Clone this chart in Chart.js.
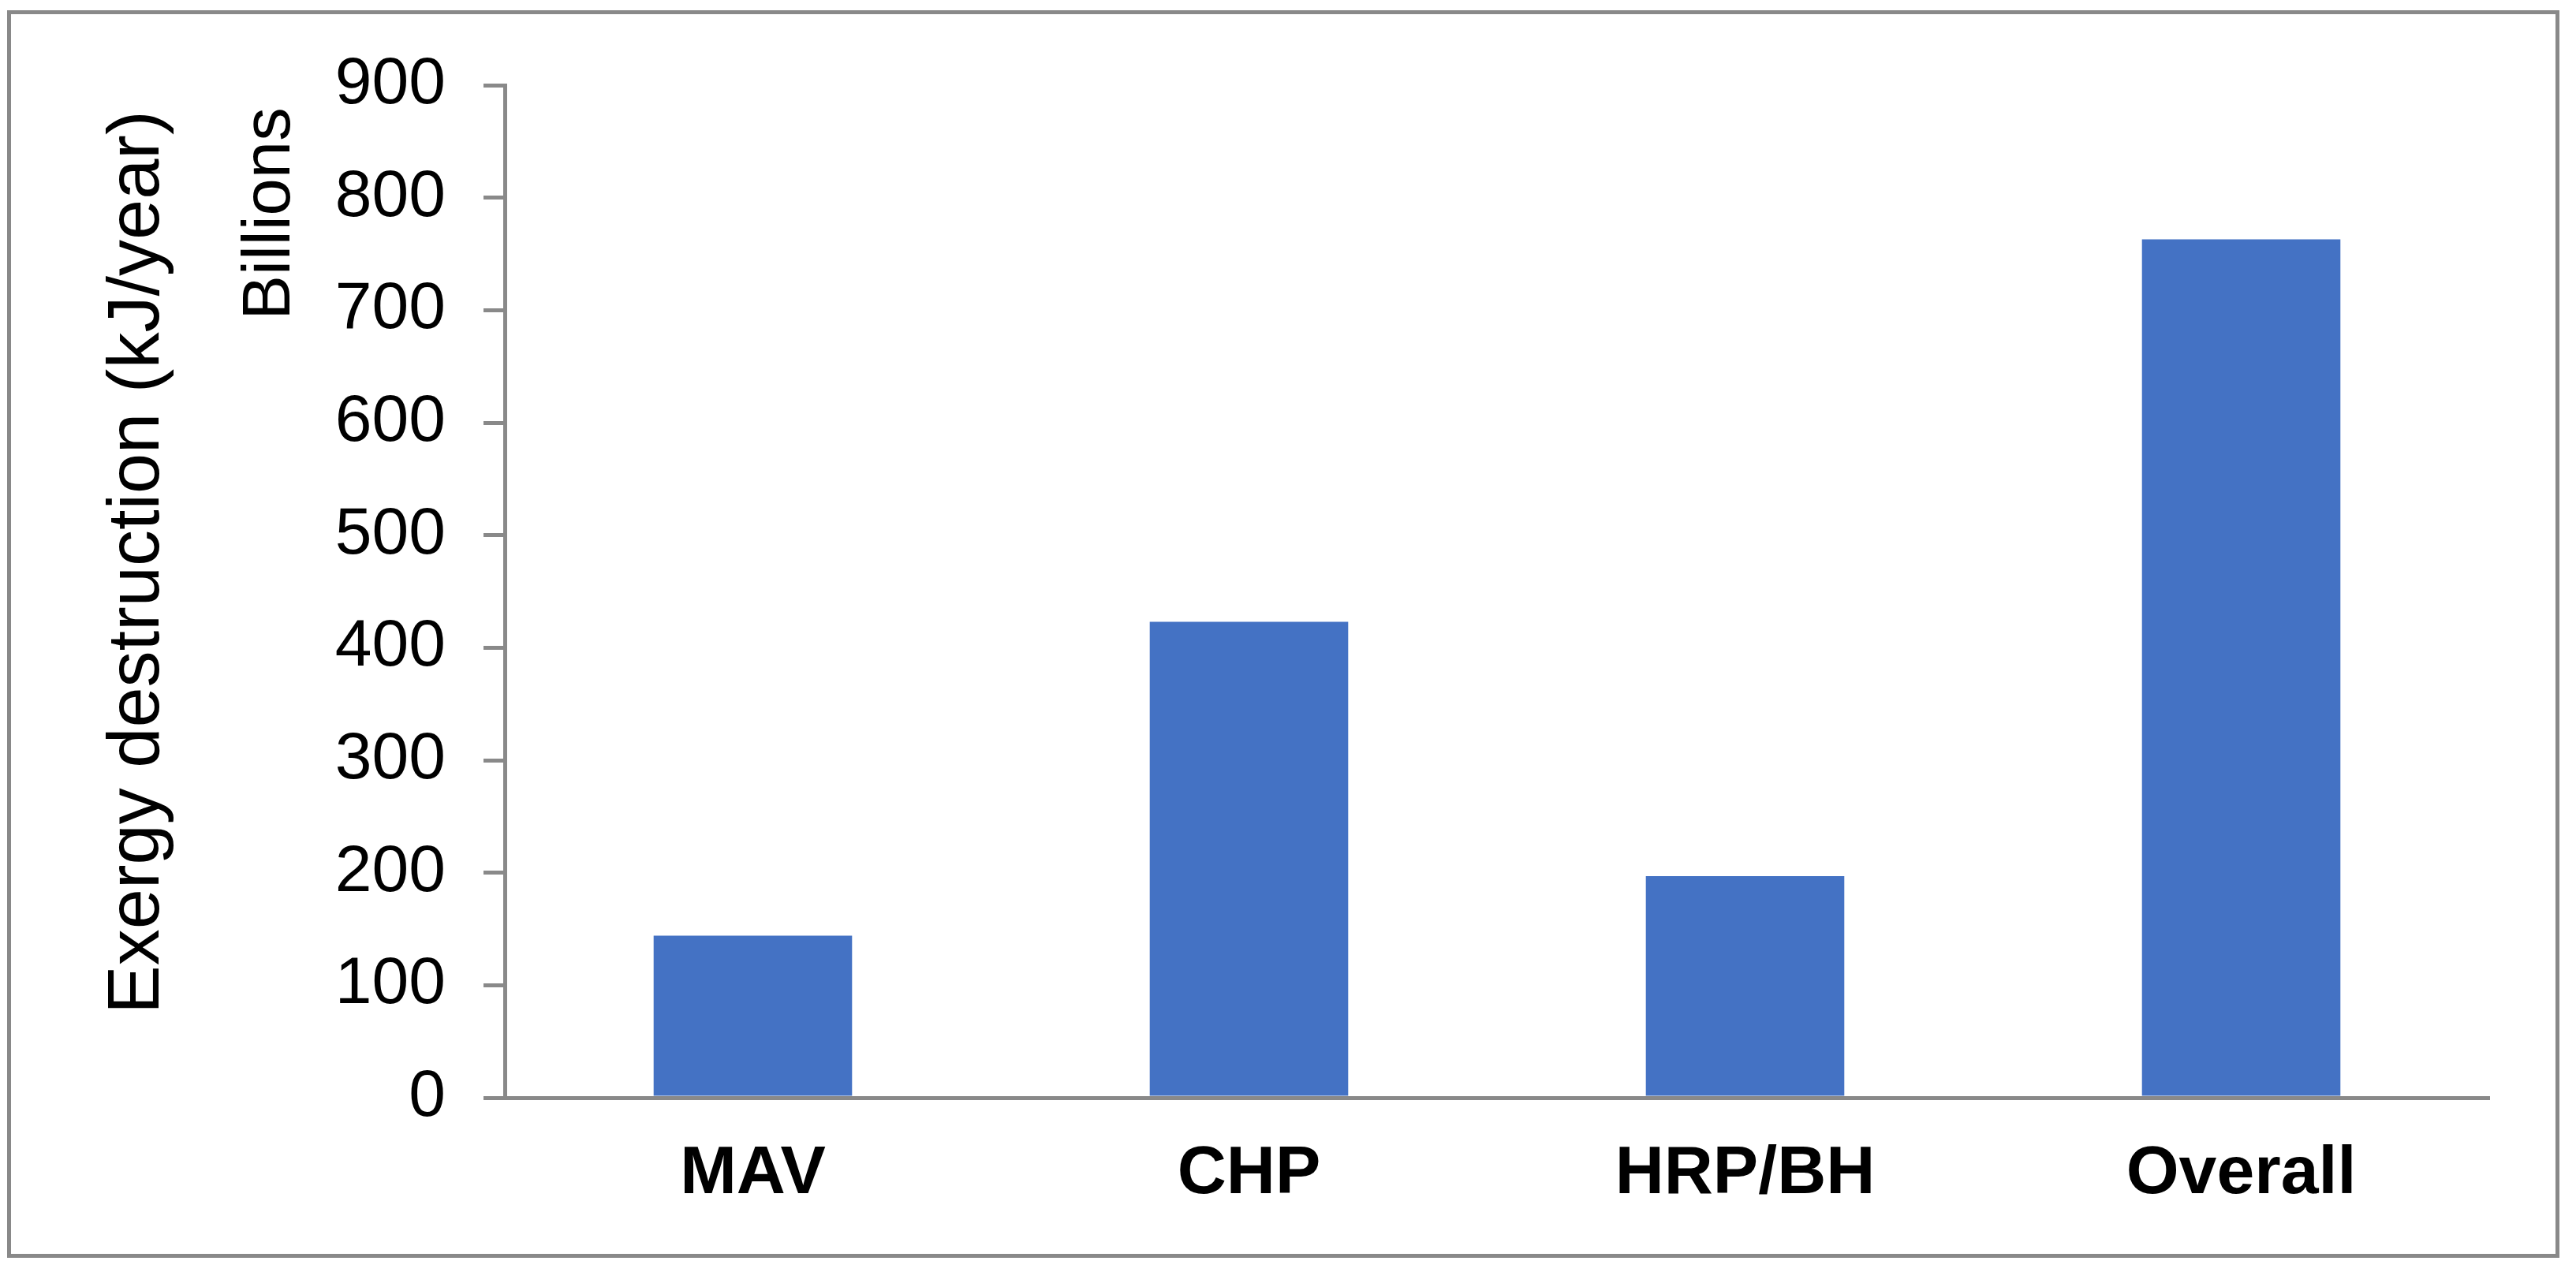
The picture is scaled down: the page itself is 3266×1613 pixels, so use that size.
<!DOCTYPE html>
<html>
<head>
<meta charset="utf-8">
<script src="https://cdn.jsdelivr.net/npm/chart.js@4/dist/chart.umd.min.js"></script>
<style>
  html, body { margin: 0; padding: 0; background: #fff; }
  #wrap { position: relative; width: 3266px; height: 1613px; }
  #frame { position: absolute; left: 9px; top: 13px; width: 3236px; height: 1582px; border: 5px solid #898989; box-sizing: border-box; pointer-events: none; }
  canvas { position: absolute; left: 0; top: 0; }
</style>
</head>
<body>
<div id="wrap">
  <canvas id="exergy-chart" width="3266" height="1613"></canvas>
  <div id="frame"></div>
</div>
<script>
const categories = ['MAV', 'CHP', 'HRP/BH', 'Overall'];
const exergyDestruction = [144, 423, 197, 763];   // billions kJ/year
const yTicks = [0, 100, 200, 300, 400, 500, 600, 700, 800, 900];

const axisGray = '#898989';
const barBlue = '#4472C4';
const fontFamily = '"Liberation Sans", Arial, sans-serif';

// y-axis title + "Billions" unit label, drawn beside the axis
const sideLabels = {
  id: 'sideLabels',
  afterDraw(chart) {
    const ctx = chart.ctx;
    ctx.save();
    ctx.fillStyle = '#000';
    ctx.textAlign = 'center';
    ctx.textBaseline = 'middle';

    ctx.save();
    ctx.translate(176, 713);
    ctx.rotate(-Math.PI / 2);
    ctx.font = '92px ' + fontFamily;
    ctx.fillText('Exergy destruction (kJ/year)', 0, 0);
    ctx.restore();

    ctx.save();
    ctx.translate(344, 271);
    ctx.rotate(-Math.PI / 2);
    ctx.font = '85px ' + fontFamily;
    ctx.fillText('Billions', 0, 0);
    ctx.restore();

    ctx.restore();
  }
};

new Chart(document.getElementById('exergy-chart'), {
  type: 'bar',
  data: {
    labels: categories,
    datasets: [{
      label: 'Exergy destruction',
      data: exergyDestruction,
      backgroundColor: barBlue,
      borderWidth: 0,
      categoryPercentage: 1.0,
      barPercentage: 0.4
    }]
  },
  options: {
    responsive: false,
    animation: false,
    layout: { padding: { left: 0, right: 110, top: 108, bottom: 0 } },
    plugins: {
      legend: { display: false },
      tooltip: { enabled: false }
    },
    scales: {
      x: {
        grid: { display: false, drawTicks: false },
        border: { display: true, color: axisGray, width: 5 },
        ticks: {
          color: '#000',
          padding: 46,
          font: { family: fontFamily, size: 86, weight: 'bold' }
        },
        afterFit(scale) { scale.height = 221; }
      },
      y: {
        min: 0,
        max: 900,
        afterBuildTicks(scale) { scale.ticks = yTicks.map(v => ({ value: v })); },
        grid: { drawOnChartArea: false, tickLength: 27, color: axisGray, lineWidth: 5 },
        border: { display: true, color: axisGray, width: 5 },
        ticks: {
          color: '#000',
          padding: 48,
          font: { family: fontFamily, size: 84 }
        },
        afterFit(scale) { scale.width = 640; }
      }
    }
  },
  plugins: [sideLabels]
});
</script>
</body>
</html>
